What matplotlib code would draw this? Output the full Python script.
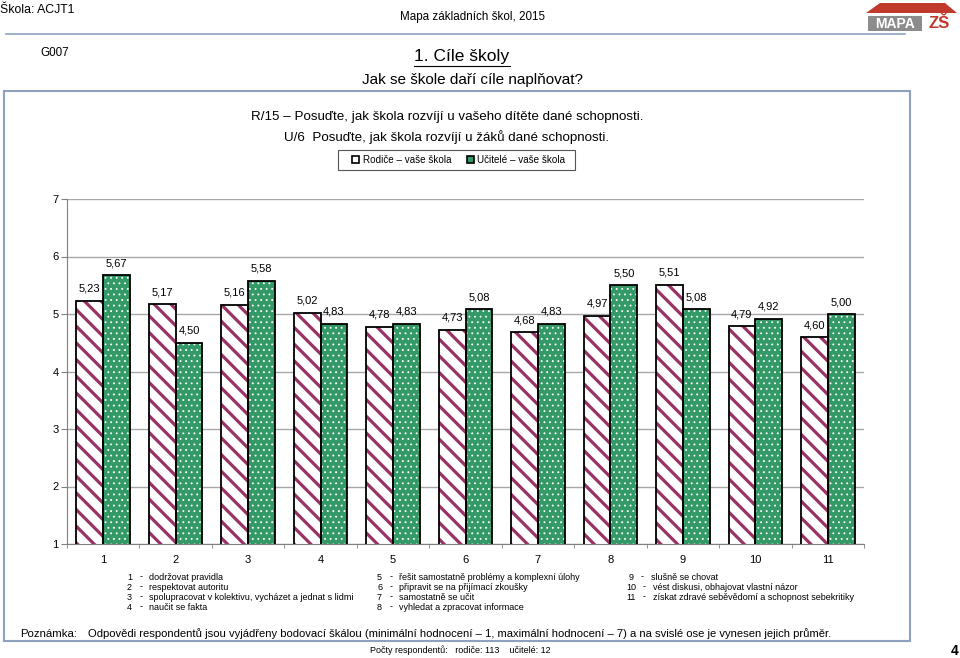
import numpy as np
import matplotlib.pyplot as plt
from matplotlib.patches import Rectangle, Polygon
from matplotlib.lines import Line2D
from matplotlib import font_manager

plt.rcParams['font.family'] = ['Liberation Sans', 'DejaVu Sans']

# data
categories = ['1', '2', '3', '4', '5', '6', '7', '8', '9', '10', '11']
rodice = [5.23, 5.17, 5.16, 5.02, 4.78, 4.73, 4.68, 4.97, 5.51, 4.79, 4.60]
ucitele = [5.67, 4.50, 5.58, 4.83, 4.83, 5.08, 4.83, 5.50, 5.08, 4.92, 5.00]
yticks = [1, 2, 3, 4, 5, 6, 7]
legend_items = ['Rodiče – vaše škola', 'Učitelé – vaše škola']
goals_col1 = ['dodržovat pravidla', 'respektovat autoritu',
              'spolupracovat v kolektivu, vycházet a jednat s lidmi', 'naučit se fakta']
goals_col2 = ['řešit samostatně problémy a komplexní úlohy', 'připravit se na přijímací zkoušky',
              'samostatně se učit', 'vyhledat a zpracovat informace']
goals_col3 = ['slušně se chovat', 'vést diskusi, obhajovat vlastní názor',
              'získat zdravé seběvědomí a schopnost sebekritiky']

W, H = 960, 658
MAROON = '#993366'
GREEN = '#339966'
FRAME = '#8ea2c0'

names = {f.name for f in font_manager.fontManager.ttflist}
NARROW = 'Liberation Sans Narrow' if 'Liberation Sans Narrow' in names else None

fig = plt.figure(figsize=(W / 100, H / 100), dpi=100)


def fx(x):
    return x / W


def fy(y):
    return 1 - y / H


def txt(x, y, s, narrow=False, size=9, **kw):
    kw.setdefault('va', 'center')
    if narrow:
        if NARROW:
            kw['family'] = [NARROW, 'DejaVu Sans']
        else:
            size = size * 0.84
    return fig.text(fx(x), fy(y), s, fontsize=size, **kw)


# page header
txt(0, 10, 'Škola: ACJT1', narrow=True, size=10.5)
txt(473, 17, 'Mapa základních škol, 2015', narrow=True, size=10, ha='center')
fig.add_artist(Line2D([fx(6), fx(905)], [fy(34), fy(34)], color=FRAME, lw=1.2))

# logo
fig.add_artist(Polygon([(fx(866), fy(13)), (fx(880), fy(3)), (fx(945), fy(3)), (fx(957), fy(13))],
                       closed=True, color='#c0392b', lw=0))
fig.add_artist(Rectangle((fx(868), fy(31)), fx(54), 15 / H, color='#8c8c8c', lw=0))
txt(895, 24, 'MAPA', size=10, ha='center', color='white', fontweight='bold')
txt(939, 24, 'ZŠ', size=12, ha='center', color='#c0392b', fontweight='bold')

txt(40, 53, 'G007', narrow=True, size=10)
title = txt(462, 57, '1. Cíle školy', size=12.5, ha='center')
txt(473, 80, 'Jak se škole daří cíle naplňovat?', size=11, ha='center')

# outer frame
fig.add_artist(Rectangle((fx(4), fy(641)), fx(906), (641 - 91) / H,
                         fill=False, edgecolor=FRAME, lw=1.5))

txt(447, 117, 'R/15 – Posuďte, jak škola rozvíjí u vašeho dítěte dané schopnosti.', narrow=True, size=11.5, ha='center')
txt(447, 137, 'U/6  Posuďte, jak škola rozvíjí u žáků dané schopnosti.', narrow=True, size=11.5, ha='center')

# chart
ax = fig.add_axes([fx(67), fy(544), fx(864 - 67), (544 - 199) / H])
x = np.arange(1, len(categories) + 1)
w = 0.37
with plt.rc_context({'hatch.linewidth': 2.3}):
    ax.bar(x - w / 2, rodice, w, color='white', hatch='\\\\', edgecolor=MAROON, lw=0, zorder=2)
with plt.rc_context({'hatch.linewidth': 0.6}):
    ax.bar(x + w / 2, ucitele, w, color=GREEN, hatch='...', edgecolor='white', lw=0, zorder=2)
ax.bar(x - w / 2, rodice, w, fill=False, edgecolor='black', lw=1.3, zorder=3)
ax.bar(x + w / 2, ucitele, w, fill=False, edgecolor='black', lw=1.3, zorder=3)

for xi, v in zip(x - w / 2, rodice):
    ax.annotate(f'{v:.2f}'.replace('.', ','), (xi, v), xytext=(0, 5), textcoords='offset points',
                ha='center', va='bottom', fontsize=8)
for xi, v in zip(x + w / 2, ucitele):
    ax.annotate(f'{v:.2f}'.replace('.', ','), (xi, v), xytext=(0, 5), textcoords='offset points',
                ha='center', va='bottom', fontsize=8)

ax.set_xlim(0.5, len(categories) + 0.5)
ax.set_ylim(1, 7)
ax.set_yticks(yticks)
ax.set_xticks(x)
ax.set_xticklabels(categories)
ax.set_xticks(np.arange(0.5, len(categories) + 1, 1), minor=True)
ax.tick_params(axis='x', which='major', length=0, labelsize=8, pad=8)
ax.tick_params(axis='x', which='minor', length=3, color='#808080')
ax.tick_params(axis='y', length=4, color='#808080', labelsize=8, pad=2)
ax.grid(axis='y', color='#a8a8a8', lw=1, zorder=0)
for s in ['top', 'right']:
    ax.spines[s].set_visible(False)
for s in ['left', 'bottom']:
    ax.spines[s].set_color('#808080')

# legend box
fig.add_artist(Rectangle((fx(338), fy(170)), fx(237), 20 / H, fill=False, edgecolor='#555555', lw=0.8))
fig.add_artist(Rectangle((fx(352), fy(163)), fx(7), 7 / H, facecolor='white', edgecolor='black', lw=1.2))
txt(363, 160, legend_items[0], narrow=True, size=8.5)
fig.add_artist(Rectangle((fx(467), fy(163)), fx(7), 7 / H, facecolor=GREEN, edgecolor='black', lw=1.2))
txt(477, 160, legend_items[1], narrow=True, size=8.5)

# numbered goals
for i, s in enumerate(goals_col1):
    txt(127, 577 + 10 * i, str(i + 1), narrow=True, size=7.7)
    txt(140, 577 + 10 * i, '-', narrow=True, size=7.7)
    txt(149, 577 + 10 * i, s, narrow=True, size=7.7)
for i, s in enumerate(goals_col2):
    txt(377, 577 + 10 * i, str(i + 5), narrow=True, size=7.7)
    txt(390, 577 + 10 * i, '-', narrow=True, size=7.7)
    txt(399, 577 + 10 * i, s, narrow=True, size=7.7)
for i, s in enumerate(goals_col3):
    off = 0 if i == 0 else 2
    txt(629 - 3 * (i > 0), 577 + 10 * i, str(i + 9), narrow=True, size=7.7)
    txt(641 + off, 577 + 10 * i, '-', narrow=True, size=7.7)
    txt(651 + off, 577 + 10 * i, s, narrow=True, size=7.7)

txt(20, 634, 'Poznámka:', narrow=True, size=9.8)
txt(88, 634, 'Odpovědi respondentů jsou vyjádřeny bodovací škálou (minimální hodnocení – 1, '
             'maximální hodnocení – 7) a na svislé ose je vynesen jejich průměr.', narrow=True, size=9.6)
txt(460, 650, 'Počty respondentů:   rodiče: 113    učitelé: 12', narrow=True, size=7.7, ha='center')
txt(955, 651, '4', size=10, ha='center', fontweight='bold')

# underline under the section title, as wide as the text
fig.canvas.draw()
bb = title.get_window_extent()
fig.add_artist(Line2D([bb.x0 / W, bb.x1 / W], [bb.y0 / H - 1 / H, bb.y0 / H - 1 / H], color='black', lw=0.8))

fig.savefig('out.png', dpi=100)
